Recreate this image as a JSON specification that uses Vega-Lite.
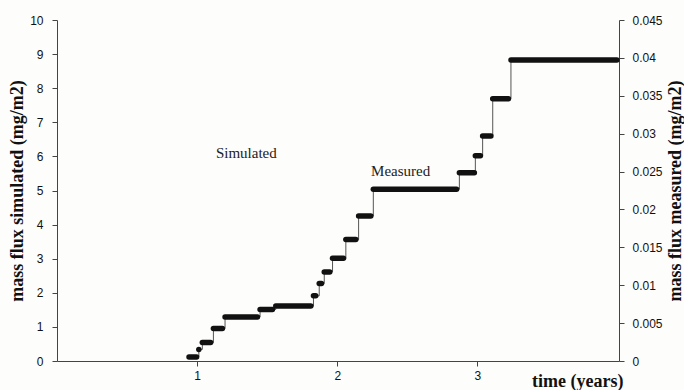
{
  "$schema": "https://vega.github.io/schema/vega-lite/v6.json",
  "autosize": {"type": "none"},
  "padding": {"left": 57, "top": 20, "right": 65, "bottom": 29},
  "width": 562,
  "height": 341,
  "background": "#fdfdfb",
  "config": {
    "view": {"stroke": null},
    "axis": {
      "grid": false,
      "domainColor": "#444",
      "tickColor": "#444",
      "labelColor": "#111",
      "labelFont": "Liberation Sans",
      "labelFontSize": 12,
      "labelOverlap": false,
      "titleFont": "Liberation Serif",
      "titleFontWeight": "bold",
      "titleFontSize": 18,
      "titleColor": "#111",
      "tickSize": 5
    }
  },
  "datasets": {
    "steps": [
      {"t0": 0.942, "t1": 0.996, "flux": 0.12},
      {"t0": 1.012, "t1": 1.012, "flux": 0.34},
      {"t0": 1.037, "t1": 1.096, "flux": 0.54},
      {"t0": 1.116, "t1": 1.18, "flux": 0.95},
      {"t0": 1.199, "t1": 1.43, "flux": 1.29},
      {"t0": 1.449, "t1": 1.537, "flux": 1.51},
      {"t0": 1.561, "t1": 1.811, "flux": 1.61},
      {"t0": 1.83, "t1": 1.846, "flux": 1.91},
      {"t0": 1.871, "t1": 1.887, "flux": 2.27},
      {"t0": 1.907, "t1": 1.946, "flux": 2.61},
      {"t0": 1.966, "t1": 2.044, "flux": 3.01},
      {"t0": 2.061, "t1": 2.132, "flux": 3.56},
      {"t0": 2.152, "t1": 2.239, "flux": 4.25},
      {"t0": 2.257, "t1": 2.851, "flux": 5.04},
      {"t0": 2.871, "t1": 2.978, "flux": 5.52},
      {"t0": 2.985, "t1": 3.021, "flux": 6.02},
      {"t0": 3.037, "t1": 3.096, "flux": 6.6},
      {"t0": 3.109, "t1": 3.221, "flux": 7.69},
      {"t0": 3.239, "t1": 3.995, "flux": 8.83}
    ],
    "labels": [
      {"t": 1.134, "flux": 5.96, "label": "Simulated"},
      {"t": 2.241, "flux": 5.42, "label": "Measured"}
    ],
    "rightaxis": [
      {"m": 0},
      {"m": 0.045}
    ]
  },
  "layer": [
    {
      "layer": [
        {
          "data": {"name": "steps"},
          "mark": {"type": "line", "interpolate": "step-after", "color": "#555", "strokeWidth": 1},
          "encoding": {
            "x": {
              "field": "t0", "type": "quantitative", "title": "time (years)",
              "scale": {"domain": [0, 4.01], "nice": false, "zero": false},
              "axis": {
                "values": [1, 2, 3], "format": "d",
                "titleAnchor": "end", "titleAlign": "right", "titleBaseline": "alphabetic", "titleX": 566, "titleY": 25, "labelPadding": 4
              }
            },
            "y": {
              "field": "flux", "type": "quantitative", "title": "mass flux simulated (mg/m2)",
              "scale": {"domain": [0, 10], "nice": false},
              "axis": {
                "orient": "left", "values": [0, 1, 2, 3, 4, 5, 6, 7, 8, 9, 10], "format": "d",
                "labelPadding": 9, "titlePadding": 3
              }
            }
          }
        },
        {
          "data": {"name": "steps"},
          "mark": {"type": "rule", "color": "#111", "strokeWidth": 5.5, "strokeCap": "round"},
          "encoding": {
            "x": {"field": "t0", "type": "quantitative", "title": "time (years)",
              "axis": {
                "values": [1, 2, 3], "format": "d",
                "titleAnchor": "end", "titleAlign": "right", "titleBaseline": "alphabetic", "titleX": 566, "titleY": 25, "labelPadding": 4
              }},
            "x2": {"field": "t1"},
            "y": {"field": "flux", "type": "quantitative", "title": "mass flux simulated (mg/m2)",
              "axis": {
                "orient": "left", "values": [0, 1, 2, 3, 4, 5, 6, 7, 8, 9, 10], "format": "d",
                "labelPadding": 9, "titlePadding": 3
              }}
          }
        },
        {
          "data": {"name": "labels"},
          "mark": {"type": "text", "font": "Liberation Serif", "fontSize": 15, "align": "left", "baseline": "alphabetic", "color": "#222"},
          "encoding": {
            "x": {"field": "t", "type": "quantitative", "title": "time (years)",
              "axis": {
                "values": [1, 2, 3], "format": "d",
                "titleAnchor": "end", "titleAlign": "right", "titleBaseline": "alphabetic", "titleX": 566, "titleY": 25, "labelPadding": 4
              }},
            "y": {"field": "flux", "type": "quantitative", "title": "mass flux simulated (mg/m2)",
              "axis": {
                "orient": "left", "values": [0, 1, 2, 3, 4, 5, 6, 7, 8, 9, 10], "format": "d",
                "labelPadding": 9, "titlePadding": 3
              }},
            "text": {"field": "label"}
          }
        }
      ]
    },
    {
      "data": {"name": "rightaxis"},
      "mark": {"type": "point", "opacity": 0},
      "encoding": {
        "y": {
          "field": "m", "type": "quantitative",
          "scale": {"domain": [0, 0.045], "nice": false},
          "axis": {
            "orient": "right", "values": [0, 0.005, 0.01, 0.015, 0.02, 0.025, 0.03, 0.035, 0.04, 0.045],
            "format": "~g", "title": "mass flux measured (mg/m2)", "titleAngle": 270, "titleBaseline": "top",
            "labelPadding": 8, "titlePadding": 4
          }
        }
      }
    }
  ],
  "resolve": {"scale": {"y": "independent"}, "axis": {"y": "independent"}}
}
